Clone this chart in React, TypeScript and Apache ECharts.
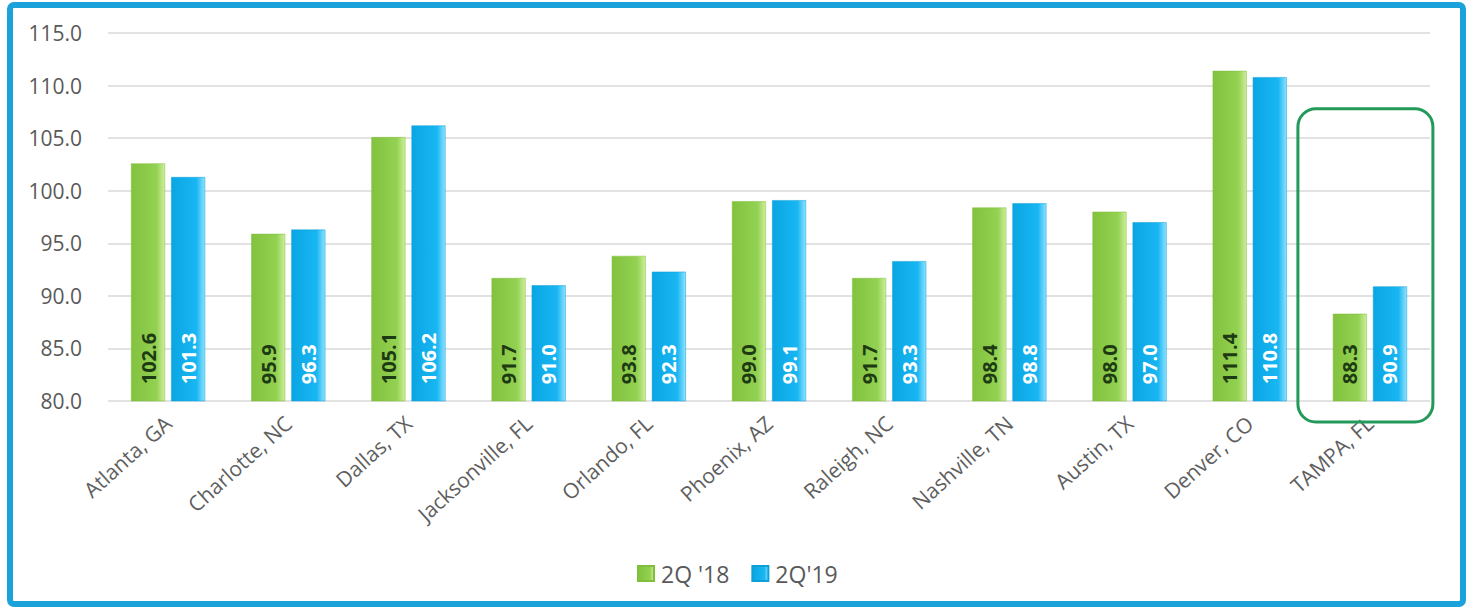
import React, { useEffect, useRef } from "react";
import * as echarts from "echarts";

const categories = [
  "Atlanta, GA",
  "Charlotte, NC",
  "Dallas, TX",
  "Jacksonville, FL",
  "Orlando, FL",
  "Phoenix, AZ",
  "Raleigh, NC",
  "Nashville, TN",
  "Austin, TX",
  "Denver, CO",
  "TAMPA, FL",
];
const series2018 = [102.6, 95.9, 105.1, 91.7, 93.8, 99.0, 91.7, 98.4, 98.0, 111.4, 88.3];
const series2019 = [101.3, 96.3, 106.2, 91.0, 92.3, 99.1, 93.3, 98.8, 97.0, 110.8, 90.9];
const seriesNames = ["2Q '18", "2Q'19"];
const highlightCategory = "TAMPA, FL";
const highlightTop = 107.8;

const FONT = "'Open Sans', 'DejaVu Sans', sans-serif";

const greenGrad = new echarts.graphic.LinearGradient(0, 0, 1, 0, [
  { offset: 0, color: "#82c23e" },
  { offset: 0.75, color: "#93d152" },
  { offset: 1, color: "#cdef9a" },
]);
const blueGrad = new echarts.graphic.LinearGradient(0, 0, 1, 0, [
  { offset: 0, color: "#0aa6e4" },
  { offset: 0.75, color: "#18b6f2" },
  { offset: 1, color: "#8fe2ff" },
]);

export default function App() {
  const ref = useRef<HTMLDivElement>(null);
  useEffect(() => {
    if (!ref.current) return;
    const chart = echarts.init(ref.current, null, { renderer: "svg" });
    const labelBase = {
      show: true,
      position: "insideBottom" as const,
      rotate: 90,
      align: "left" as const,
      verticalAlign: "middle" as const,
      distance: 17,
      fontFamily: FONT,
      fontWeight: "bold" as const,
      fontSize: 20,
      formatter: (p: any) => Number(p.value).toFixed(1),
    };
    chart.setOption({
      animation: false,
      backgroundColor: "#ffffff",
      grid: { left: 108, right: 42, top: 33, bottom: 209, containLabel: false },
      legend: {
        bottom: 20,
        left: 632,
        itemWidth: 16,
        itemHeight: 15,
        itemGap: 22,
        icon: "rect",
        textStyle: { fontFamily: FONT, fontSize: 23, color: "#595959", padding: [0, 0, 0, 2] },
        data: seriesNames,
      },
      xAxis: {
        type: "category",
        data: categories,
        axisLine: { show: false },
        axisTick: { show: false },
        axisLabel: {
          rotate: 42,
          margin: 19,
          fontFamily: FONT,
          fontSize: 21,
          color: "#5f5f5f",
          interval: 0,
        },
      },
      yAxis: {
        type: "value",
        min: 80,
        max: 115,
        interval: 5,
        axisLine: { show: false },
        axisTick: { show: false },
        splitLine: { lineStyle: { color: "#d9d9d9", width: 1.5 } },
        axisLabel: {
          formatter: (v: number) => v.toFixed(1),
          fontFamily: FONT,
          fontSize: 21,
          color: "#595959",
          margin: 26,
        },
      },
      series: [
        {
          name: seriesNames[0],
          type: "bar",
          data: series2018,
          barWidth: 34,
          barGap: "18%",
          itemStyle: { color: greenGrad, borderColor: "#7fbf3a", borderWidth: 0.5 },
          label: { ...labelBase, color: "#1d3a12" },
        },
        {
          name: seriesNames[1],
          type: "bar",
          data: series2019,
          barWidth: 34,
          itemStyle: { color: blueGrad, borderColor: "#0d9fd8", borderWidth: 0.5 },
          label: { ...labelBase, color: "#ffffff" },
        },
      ],
    });

    const cx = chart.convertToPixel({ xAxisIndex: 0 }, highlightCategory) as number;
    const yTop = chart.convertToPixel({ yAxisIndex: 0 }, highlightTop) as number;
    const yBase = chart.convertToPixel({ yAxisIndex: 0 }, 80) as number;
    chart.setOption({
      graphic: [
        {
          type: "rect",
          shape: { x: 10, y: 5, width: 1453, height: 599, r: 4 },
          style: { fill: "none", stroke: "#1ba2da", lineWidth: 6 },
          silent: true,
          z: 100,
        },
        {
          type: "rect",
          shape: { x: cx - 72, y: yTop, width: 135, height: yBase - yTop + 21, r: 18 },
          style: { fill: "none", stroke: "#23995a", lineWidth: 3 },
          silent: true,
          z: 100,
        },
      ],
    });
    return () => chart.dispose();
  }, []);
  return (
    <div
      ref={ref}
      style={{ position: "absolute", left: 0, top: 0, width: 1472, height: 610 }}
    />
  );
}
